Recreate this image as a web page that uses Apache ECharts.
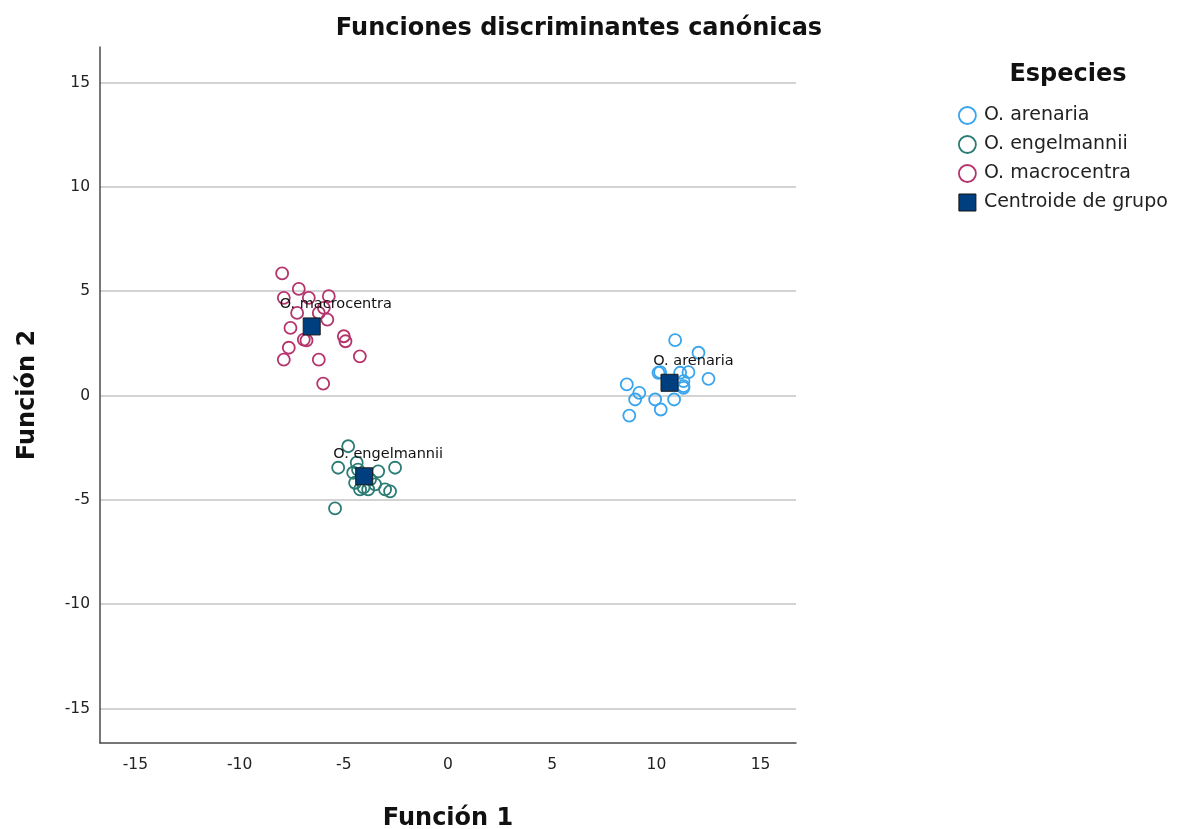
<!DOCTYPE html>
<html>
<head>
<meta charset="utf-8">
<script src="https://cdn.jsdelivr.net/npm/echarts@6/dist/echarts.min.js"></script>
<style>html,body{margin:0;padding:0;background:#fff}#c{width:1182px;height:829px}</style>
</head>
<body>
<div id="c"></div>
<script>
var tickValues = [-15, -10, -5, 0, 5, 10, 15];
var groupNames = ['O. arenaria', 'O. engelmannii', 'O. macrocentra'];
var centroidName = 'Centroide de grupo';

var arenaria = [
  [10.90, 2.65], [12.02, 2.05], [10.18, 1.12], [11.54, 1.12], [12.50, 0.80],
  [11.30, 0.69], [8.58, 0.53], [11.30, 0.37], [9.18, 0.13], [8.98, -0.19],
  [9.94, -0.19], [10.85, -0.19], [10.21, -0.67], [8.70, -0.96], [11.14, 1.09],
  [10.10, 1.09], [11.30, 0.45]
];
var engelmannii = [
  [-4.79, -2.43], [-5.27, -3.46], [-2.54, -3.46], [-4.38, -3.22], [-4.55, -3.70],
  [-3.35, -3.63], [-3.50, -4.26], [-4.22, -4.50], [-3.83, -4.50], [-3.02, -4.50],
  [-2.78, -4.59], [-4.46, -4.18], [-4.13, -3.93], [-4.32, -3.55], [-3.74, -4.02],
  [-5.42, -5.41], [-4.05, -4.40]
];
var macrocentra = [
  [-7.96, 5.85], [-7.16, 5.11], [-7.88, 4.68], [-6.68, 4.68], [-5.72, 4.76],
  [-7.24, 3.96], [-6.20, 3.96], [-5.96, 4.20], [-5.79, 3.64], [-7.56, 3.24],
  [-6.92, 2.68], [-6.79, 2.64], [-5.00, 2.84], [-4.92, 2.60], [-7.64, 2.29],
  [-7.88, 1.72], [-6.20, 1.72], [-4.23, 1.88], [-5.99, 0.57]
];
var centroids = [
  [10.63, 0.61, 'O. arenaria'],
  [-4.02, -3.87, 'O. engelmannii'],
  [-6.54, 3.31, 'O. macrocentra']
];
var colors = ['#38a5ef', '#2a7c74', '#b5346c'];
var centroidColor = '#003f7f';

var font = '"DejaVu Sans", Arial, sans-serif';
var chart = echarts.init(document.getElementById('c'), null, {renderer: 'canvas'});

function circleSeries(name, data, color) {
  return {
    name: name, type: 'scatter', data: data, symbol: 'circle', symbolSize: 12,
    itemStyle: {color: 'rgba(255,255,255,0)', borderColor: color, borderWidth: 1.8, opacity: 1},
    emphasis: {disabled: true}, z: 2
  };
}

var axisCommon = {
  type: 'value',
  axisLine: {show: true, onZero: false, lineStyle: {color: '#4a4a4a', width: 1.5}},
  axisTick: {show: false, customValues: tickValues},
  axisLabel: {customValues: tickValues, color: '#222', fontSize: 15.5, fontFamily: font},
  nameLocation: 'middle',
  nameTextStyle: {color: '#111', fontSize: 24, fontWeight: 'bold', fontFamily: font}
};

chart.setOption({
  animation: false,
  backgroundColor: '#fff',
  title: [
    {text: 'Funciones discriminantes canónicas', left: 574, top: 12, textAlign: 'center',
     textStyle: {color: '#111', fontSize: 24, fontWeight: 'bold', fontFamily: font}},
    {text: 'Especies', left: 1063, top: 58, textAlign: 'center',
     textStyle: {color: '#111', fontSize: 24, fontWeight: 'bold', fontFamily: font}}
  ],
  legend: {
    orient: 'vertical', left: 958, top: 106, padding: 0, itemWidth: 17, itemHeight: 17, itemGap: 10,
    textStyle: {color: '#222', fontSize: 19, fontFamily: font, padding: [0, 0, 0, 3]},
    data: [
      {name: groupNames[0], icon: 'circle', itemStyle: {color: '#fff', borderColor: colors[0], borderWidth: 1.8}},
      {name: groupNames[1], icon: 'circle', itemStyle: {color: '#fff', borderColor: colors[1], borderWidth: 1.8}},
      {name: groupNames[2], icon: 'circle', itemStyle: {color: '#fff', borderColor: colors[2], borderWidth: 1.8}},
      {name: centroidName, icon: 'rect', itemStyle: {color: centroidColor, borderColor: '#111', borderWidth: 1}}
    ]
  },
  grid: {left: 100, right: 386, top: 47, bottom: 86, containLabel: false, outerBoundsMode: 'none'},
  xAxis: Object.assign({}, axisCommon, {
    min: -16.7, max: 16.7,
    name: 'Función 1', nameGap: 64,
    axisLabel: Object.assign({}, axisCommon.axisLabel, {margin: 14}),
    splitLine: {show: false}
  }),
  yAxis: Object.assign({}, axisCommon, {
    min: -16.65, max: 16.7,
    name: 'Función 2', nameGap: 60,
    axisLabel: Object.assign({}, axisCommon.axisLabel, {margin: 10}),
    splitLine: {show: true, lineStyle: {color: '#c4c4c4', width: 1.5}}
  }),
  series: [
    circleSeries(groupNames[0], arenaria, colors[0]),
    circleSeries(groupNames[1], engelmannii, colors[1]),
    circleSeries(groupNames[2], macrocentra, colors[2]),
    {
      name: centroidName, type: 'scatter', data: centroids, symbol: 'rect', symbolSize: 17,
      itemStyle: {color: centroidColor, borderColor: '#1a1a1a', borderWidth: 1, opacity: 1},
      emphasis: {disabled: true}, z: 5,
      label: {
        show: true, position: 'inside', offset: [24, -22],
        formatter: function (p) { return p.data[2]; },
        color: '#111', fontSize: 14.5, fontFamily: font
      }
    }
  ]
});
</script>
</body>
</html>
